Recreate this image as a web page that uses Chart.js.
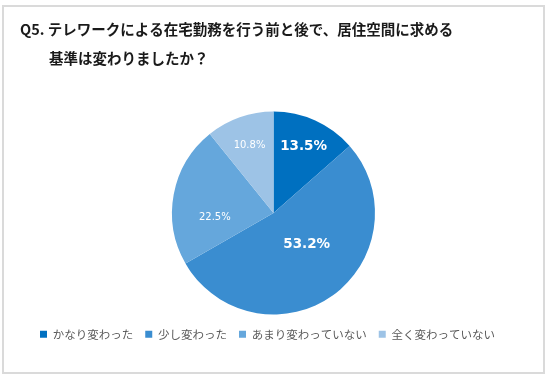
<!DOCTYPE html>
<html>
<head>
<meta charset="utf-8">
<script src="https://cdn.jsdelivr.net/npm/chart.js@4/dist/chart.umd.min.js"></script>
<style>
  html, body { margin: 0; padding: 0; background: #ffffff; }
  #frame {
    position: absolute; left: 2px; top: 5px;
    width: 539px; height: 365px;
    border: 2px solid #dadada;
    background: #ffffff;
  }
  canvas { display: block; }
</style>
</head>
<body>
<div id="frame"><canvas id="c" width="539" height="365"></canvas></div>
<script>
const categories = ['かなり変わった', '少し変わった', 'あまり変わっていない', '全く変わっていない'];
const values = [13.5, 53.2, 22.5, 10.8];
const sliceColors = ['#0070C0', '#3A8DD0', '#65A7DC', '#9DC3E6'];
const titleLines = ['Q5. テレワークによる在宅勤務を行う前と後で、居住空間に求める', '\u3000\u3000基準は変わりましたか？'];

const pctLabels = {
  id: 'pctLabels',
  afterDatasetsDraw(chart, args, opts) {
    const ctx = chart.ctx;
    const meta = chart.getDatasetMeta(0);
    const data = chart.data.datasets[0].data;
    meta.data.forEach((arc, i) => {
      const p = arc.getProps(['x', 'y', 'startAngle', 'endAngle', 'outerRadius'], true);
      const st = opts.styles[i];
      const mid = (p.startAngle + p.endAngle) / 2 + st.shift * Math.PI / 180;
      const r = p.outerRadius * st.r;
      ctx.save();
      ctx.font = st.font;
      ctx.fillStyle = st.color;
      ctx.textAlign = 'center';
      ctx.textBaseline = 'middle';
      ctx.fillText(data[i].toFixed(1) + '%', p.x + Math.cos(mid) * r, p.y + Math.sin(mid) * r);
      ctx.restore();
    });
  }
};

const legendShift = {
  id: 'legendShift',
  afterLayout(chart, args, opts) {
    if (chart.legend) {
      chart.legend.left -= opts.dx;
      chart.legend.right -= opts.dx;
    }
  }
};

new Chart(document.getElementById('c'), {
  type: 'pie',
  data: {
    labels: categories,
    datasets: [{
      data: values,
      backgroundColor: sliceColors,
      borderWidth: 0,
      hoverOffset: 0
    }]
  },
  plugins: [pctLabels, legendShift],
  options: {
    responsive: false,
    devicePixelRatio: 1,
    animation: false,
    radius: 101.5,
    layout: { padding: { left: 16, right: 16, top: 0, bottom: 22 } },
    plugins: {
      tooltip: { enabled: false },
      title: {
        display: true,
        text: titleLines,
        align: 'start',
        color: '#1a1a1a',
        font: { family: "'Noto Sans CJK JP', sans-serif", size: 14.5, weight: 'bold', lineHeight: 2 },
        padding: { top: 7.5, bottom: 37 }
      },
      legend: {
        display: true,
        position: 'bottom',
        labels: {
          boxWidth: 7,
          boxHeight: 7,
          padding: 12,
          color: '#595959',
          font: { family: "'Noto Sans CJK JP', sans-serif", size: 11.5 }
        }
      },
      legendShift: { dx: 6 },
      pctLabels: {
        styles: [
          { r: 0.72, shift: 0, font: "bold 13.5px 'DejaVu Sans', sans-serif", color: '#ffffff' },
          { r: 0.45, shift: -11, font: "bold 13.5px 'DejaVu Sans', sans-serif", color: '#ffffff' },
          { r: 0.58, shift: -15, font: "10px 'DejaVu Sans', sans-serif", color: '#ffffff' },
          { r: 0.71, shift: 0, font: "10px 'DejaVu Sans', sans-serif", color: '#ffffff' }
        ]
      }
    }
  }
});
</script>
</body>
</html>
